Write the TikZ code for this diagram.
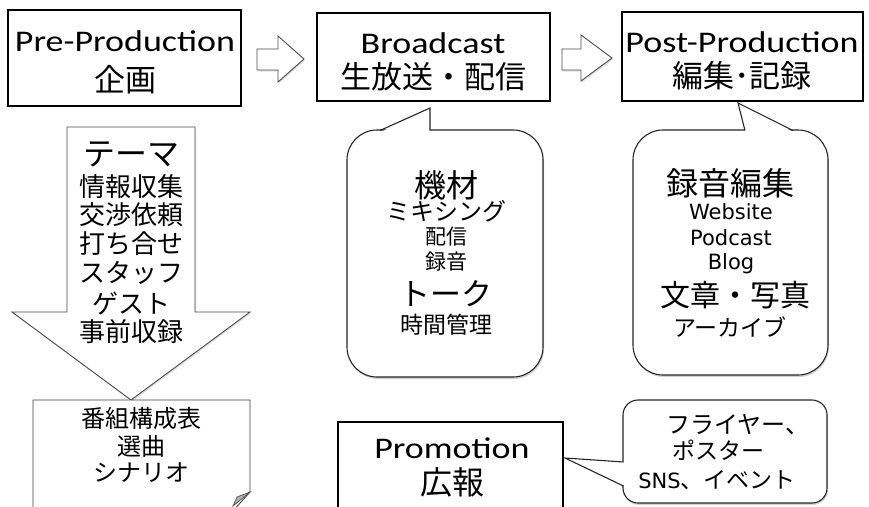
\documentclass[tikz,border=0pt]{standalone}
\usepackage{fontspec}
\setmainfont{Noto Sans CJK JP}
\newfontfamily\latfont[FakeStretch=1.2]{Carlito}
\newfontfamily\webfont{DejaVu Sans}
\usetikzlibrary{shadows}

\newcommand{\fs}[1]{\fontsize{#1}{#1}\selectfont}

\tikzset{
  stagebox/.style={draw=black, line width=2.6pt, fill=white},
  flowarrow/.style={draw=black!70, line width=0.9pt, fill=white, line join=miter,
    drop shadow={shadow xshift=1pt, shadow yshift=-1.5pt, opacity=0.25}},
  bubble/.style={draw=black!85, line width=1.1pt, fill=white,
    drop shadow={shadow xshift=1pt, shadow yshift=-2pt, opacity=0.35}},
  tail/.style={draw=black!85, line width=1.1pt, line join=miter},
  docshape/.style={draw=black!75, line width=0.9pt, fill=white},
}

\begin{document}
\begin{tikzpicture}[x=1pt, y=-1pt, every node/.style={inner sep=0pt, outer sep=0pt}]
\fill[white] (0,0) rectangle (869,506);
\useasboundingbox (0,0) rectangle (869,506);
\clip (0,0) rectangle (869,506);

% stage boxes
\draw[stagebox] (8,10) rectangle (241,106);
\node (pretitle) at (125,41) {\fs{30}\latfont Pre-Production};
\node (prejp) at (125,80) {\fs{31}企画};

\draw[stagebox] (317,13) rectangle (550,101);
\node (bctitle) at (433,43) {\fs{30}\latfont Broadcast};
\node (bcjp) at (433,77) {\fs{31}生放送・配信};

\draw[stagebox] (622,12) rectangle (863,101);
\node (posttitle) at (742,42) {\fs{30}\latfont Post-Production};
\node (postjp) at (742,76) {\fs{31}編集･記録};

% block arrows between stages
\draw[flowarrow] (257,49) -- (278,49) -- (278,36) -- (304,59) -- (278,82) -- (278,70) -- (257,70) -- cycle;
\draw[flowarrow] (562,49) -- (581,49) -- (581,35) -- (612,58) -- (581,81) -- (581,70) -- (562,70) -- cycle;

% planning arrow
\draw[flowarrow] (67,127) -- (195,127) -- (195,312) -- (250,312) -- (131,400) -- (12,312) -- (67,312) -- cycle;
\node (theme) at (131,154) {\fs{32}テーマ};
\node (info) at (131,187) {\fs{26}情報収集};
\node (nego) at (131,215) {\fs{26}交渉依頼};
\node (meet) at (131,244) {\fs{26}打ち合せ};
\node (staff) at (131,273) {\fs{26}スタッフ};
\node (guest) at (131,303) {\fs{26}ゲスト};
\node (prerec) at (131,332) {\fs{26}事前収録};

% program sheet
\draw[docshape] (33,512) -- (33,400) -- (250,400) -- (250,492) -- (232,512);
\filldraw[fill=black!30, draw=black!70, line width=0.7pt] (250,492) -- (237,497) -- (233,506) -- cycle;
\node (sheet) at (141,418) {\fs{24}番組構成表};
\node (songs) at (141,446) {\fs{24}選曲};
\node (script) at (141,473) {\fs{24}シナリオ};

% broadcast bubble
\draw[bubble, rounded corners=30pt] (347,130) rectangle (543,377);
\fill[white] (381,132) -- (430,108) -- (430,132) -- cycle;
\draw[tail] (380,130.5) -- (430,108) -- (430,130.5);
\node (gear) at (446,185) {\fs{32}機材};
\node (mix) at (446,211) {\fs{24}ミキシング};
\node (stream) at (446,237) {\fs{21}配信};
\node (rec) at (446,262) {\fs{21}録音};
\node (talk) at (446,294) {\fs{31}トーク};
\node (timing) at (446,325) {\fs{23}時間管理};

% post-production bubble
\draw[bubble, rounded corners=30pt] (633,130) rectangle (828,375);
\fill[white] (745,132) -- (738,103) -- (793,132) -- cycle;
\draw[tail] (745,130.5) -- (738,103) -- (793,130.5);
\node (edit) at (730,183) {\fs{32}録音編集};
\node (web) at (731,212) {\fs{21}\webfont Website};
\node (pod) at (731,238) {\fs{21}\webfont Podcast};
\node (blog) at (731,264) {\fs{21}\webfont Blog};
\node (text) at (735,295) {\fs{30}文章・写真};
\node (arch) at (730,327) {\fs{23}アーカイブ};

% promotion
\draw[bubble, rounded corners=15pt] (623,400) rectangle (827,503);
\fill[white] (625,462) -- (565,458) -- (625,486) -- cycle;
\draw[tail] (623.5,462) -- (565,458) -- (623.5,486);
\node (flyer) at (738,425) {\fs{24}フライヤー、};
\node (poster) at (718,450) {\fs{23}ポスター};
\node (sns) at (717,480) {\fs{21}\webfont SNS\fs{23}\normalfont 、イベント};

\draw[stagebox] (338,422) rectangle (563,512);
\node (promotitle) at (452,448) {\fs{30}\latfont Promotion};
\node (promojp) at (452,482) {\fs{32}広報};
\end{tikzpicture}
\end{document}
